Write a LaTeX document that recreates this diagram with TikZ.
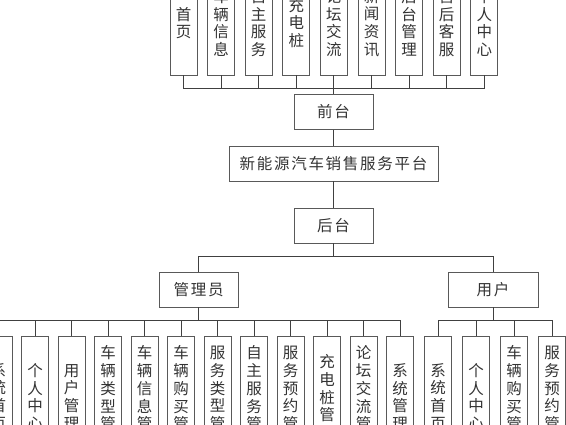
\documentclass[tikz,border=0pt]{standalone}
\usepackage{fontspec}
\newfontfamily\cjk{Noto Sans CJK SC}
\newfontfamily\cjkls[LetterSpace=11]{Noto Sans CJK SC}
\begin{document}
\begin{tikzpicture}[x=1pt,y=-1pt,
  box/.style={draw=black!65, line width=0.9pt, inner sep=0pt, text=black!80},
  vbox/.style={box, minimum width=27pt, align=center, font=\cjk\fontsize{15.5}{17.7}\selectfont},
  hbox/.style={box, minimum height=35pt, font=\cjkls\fontsize{15.5}{17}\selectfont},
  conn/.style={draw=black!75, line width=0.9pt}]
\useasboundingbox (0,0) rectangle (566,425);
\clip (0,0) rectangle (566,425);
\fill[white] (0,0) rectangle (566,425);

% central column
\node[hbox, minimum width=79pt] (qt) at (333.5,112) {前台};
\node[hbox, minimum width=209pt] (pt) at (333.5,163.5) {新能源汽车销售服务平台};
\node[hbox, minimum width=79pt] (ht) at (333.5,225.5) {后台};
\node[hbox, minimum width=79pt] (gl) at (198.7,289.5) {管理员};
\node[hbox, minimum width=90pt] (yh) at (493,289.5) {用户};

% top row
\foreach \txt [count=\i from 0] in {首\\页, 车\\辆\\信\\息, 自\\主\\服\\务, 充\\电\\桩, 论\\坛\\交\\流, 新\\闻\\资\\讯, 后\\台\\管\\理, 售\\后\\客\\服, 个\\人\\中\\心}
  \node[vbox, minimum height=104pt] (t\i) at ({183.5+37.6*\i},23) {\txt};

% admin row
\foreach \txt [count=\i from 0] in {系\\统\\首\\页, 个\\人\\中\\心, 用\\户\\管\\理, 车\\辆\\类\\型\\管\\理, 车\\辆\\信\\息\\管\\理, 车\\辆\\购\\买\\管\\理, 服\\务\\类\\型\\管\\理, 自\\主\\服\\务\\管\\理, 服\\务\\预\\约\\管\\理, 充\\电\\桩\\管\\理, 论\\坛\\交\\流\\管\\理, 系\\统\\管\\理}
  \node[vbox, minimum height=122pt] (a\i) at ({-1.5+36.5*\i},397) {\txt};

% user row
\foreach \txt [count=\i from 0] in {系\\统\\首\\页, 个\\人\\中\\心, 车\\辆\\购\\买\\管\\理, 服\\务\\预\\约\\管\\理}
  \node[vbox, minimum height=122pt] (u\i) at ({438+38*\i},397) {\txt};

% bus coordinates
\coordinate (busT) at (333.5,88.3);
\coordinate (busM) at (333.5,256);
\coordinate (busA) at (198.7,320);
\coordinate (busU) at (493,320);

% connectors
\foreach \i in {0,...,8} \draw[conn] (t\i.south) |- (busT);
\draw[conn] (qt.north) -- (busT);
\draw[conn] (qt) -- (pt);
\draw[conn] (pt) -- (ht);
\draw[conn] (ht.south) -- (busM);
\draw[conn] (gl.north) |- (busM);
\draw[conn] (yh.north) |- (busM);
\draw[conn] (gl.south) -- (busA);
\foreach \i in {0,...,11} \draw[conn] (a\i.north) |- (busA);
\draw[conn] (yh.south) -- (busU);
\foreach \i in {0,...,3} \draw[conn] (u\i.north) |- (busU);
\end{tikzpicture}
\end{document}
